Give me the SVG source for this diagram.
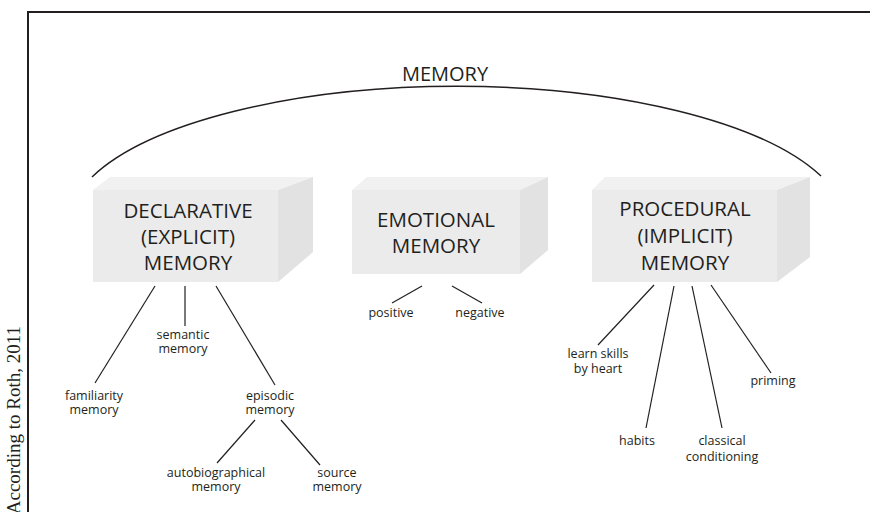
<svg xmlns="http://www.w3.org/2000/svg" width="870" height="512" viewBox="0 0 870 512">
<defs>
<style>
.t{font-family:"Open Sans","Liberation Sans",sans-serif;fill:#231f20;text-anchor:middle}
.big{font-size:20.5px}
.sm{font-size:12.5px}
.ln{stroke:#231f20;stroke-width:1.2;fill:none}
.front{fill:#ebebeb}
.top{fill:#f1f1f1}
.side{fill:#e2e2e3}
</style>
</defs>
<rect width="870" height="512" fill="#ffffff"/>
<path d="M28,512 V12 H870" fill="none" stroke="#231f20" stroke-width="2"/>
<text x="20" y="326" transform="rotate(-90 20 326)" font-family="Liberation Serif,serif" font-size="19" fill="#231f20" text-anchor="end">According to Roth, 2011</text>

<g id="memory">
<text class="t" x="445" y="81" font-size="20">MEMORY</text>
<path d="M92,177 A390,140 0 0 1 821,176" fill="none" stroke="#231f20" stroke-width="1.5"/>
</g>

<g id="declarative">
<polygon class="top" points="93,190 110,177 313,177 278,190"/>
<polygon class="side" points="278,190 313,177 313,252 278,282"/>
<rect class="front" x="93" y="190" width="185" height="92"/>
<text class="t big" x="188" y="218">DECLARATIVE<tspan x="188" dy="26">(EXPLICIT)</tspan><tspan x="188" dy="26">MEMORY</tspan></text>
</g>

<g id="emotional">
<polygon class="top" points="352,190 367,177 548,177 520,190"/>
<polygon class="side" points="520,190 548,177 548,250 520,274"/>
<rect class="front" x="352" y="190" width="168" height="84"/>
<text class="t big" x="436" y="227">EMOTIONAL<tspan x="436" dy="26">MEMORY</tspan></text>
</g>

<g id="procedural">
<polygon class="top" points="592,190 605,177 810,177 777,190"/>
<polygon class="side" points="777,190 810,177 810,257 777,282"/>
<rect class="front" x="592" y="190" width="185" height="92"/>
<text class="t big" x="685" y="216">PROCEDURAL<tspan x="685" dy="27">(IMPLICIT)</tspan><tspan x="685" dy="27">MEMORY</tspan></text>
</g>

<g id="connectors">
<line class="ln" x1="155" y1="286" x2="95" y2="383"/>
<line class="ln" x1="185" y1="286" x2="185" y2="326"/>
<line class="ln" x1="216" y1="286" x2="275" y2="385"/>
<line class="ln" x1="255" y1="420" x2="217" y2="463"/>
<line class="ln" x1="281" y1="420" x2="320" y2="465"/>
<line class="ln" x1="422" y1="286" x2="392" y2="303"/>
<line class="ln" x1="452" y1="286" x2="482" y2="303"/>
<line class="ln" x1="654" y1="285" x2="598" y2="345"/>
<line class="ln" x1="674" y1="286" x2="646" y2="428"/>
<line class="ln" x1="692" y1="286" x2="722" y2="428"/>
<line class="ln" x1="711" y1="285" x2="771" y2="373"/>
</g>

<g id="semantic"><text class="t sm" x="183" y="339">semantic<tspan x="183" dy="14">memory</tspan></text></g>
<g id="familiarity"><text class="t sm" x="94" y="400">familiarity<tspan x="94" dy="14">memory</tspan></text></g>
<g id="episodic"><text class="t sm" x="270" y="400">episodic<tspan x="270" dy="14">memory</tspan></text></g>
<g id="autobiographical"><text class="t sm" x="216" y="477">autobiographical<tspan x="216" dy="14">memory</tspan></text></g>
<g id="source"><text class="t sm" x="337" y="477">source<tspan x="337" dy="14">memory</tspan></text></g>
<g id="positive"><text class="t sm" x="391" y="317">positive</text></g>
<g id="negative"><text class="t sm" x="480" y="317">negative</text></g>
<g id="learn"><text class="t sm" x="598" y="358">learn skills<tspan x="598" dy="15">by heart</tspan></text></g>
<g id="priming"><text class="t sm" x="773" y="385">priming</text></g>
<g id="habits"><text class="t sm" x="637" y="445">habits</text></g>
<g id="classical"><text class="t sm" x="722" y="445">classical<tspan x="722" dy="16">conditioning</tspan></text></g>
</svg>
